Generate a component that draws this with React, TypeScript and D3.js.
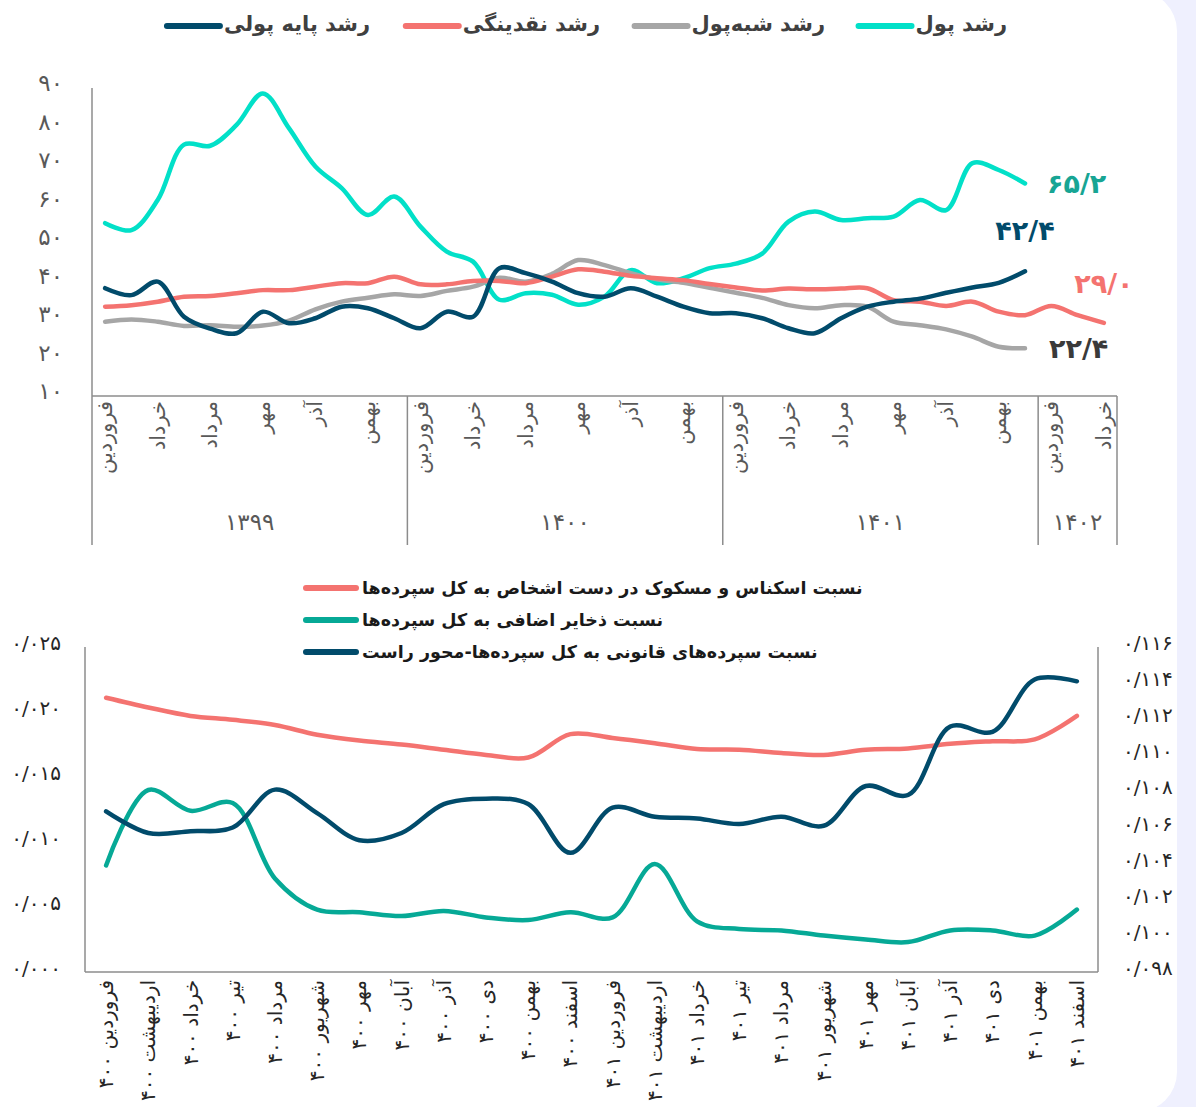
import React, { useEffect, useRef } from "react";
import * as d3 from "d3";

const W = 1196;
const H = 1107;

const MONTHS = ["فروردین", "اردیبهشت", "خرداد", "تیر", "مرداد", "شهریور", "مهر", "آبان", "آذر", "دی", "بهمن", "اسفند"];

// ---- top chart data (growth, %) ----
const TOP_YEARS = ["۱۳۹۹", "۱۴۰۰", "۱۴۰۱", "۱۴۰۲"];
const TOP_YEAR_MONTHS = [12, 12, 12, 3];
const TOP_SERIES_NAMES = ["رشد پول", "رشد شبه\u200cپول", "رشد نقدینگی", "رشد پایه پولی"];

const moneyGrowth = [54.9, 53.1, 60.9, 75.3, 75.0, 80.4, 88.6, 79.5, 69.6, 64.0, 57.0, 61.8, 54.0, 47.5, 44.9, 35.0, 36.7, 36.3, 33.7, 35.8, 42.7, 39.3, 40.6, 43.2, 44.4, 47.0, 55.3, 57.9, 55.7, 56.2, 56.6, 60.9, 58.3, 70.5, 68.7, 65.2];
const quasiMoneyGrowth = [29.3, 29.9, 29.3, 28.2, 28.4, 28.0, 28.3, 29.6, 32.5, 34.5, 35.5, 36.4, 36.0, 37.3, 38.4, 40.7, 39.7, 41.7, 45.3, 44.0, 41.9, 40.3, 39.4, 38.1, 36.8, 35.5, 33.6, 32.8, 33.6, 33.2, 29.3, 28.4, 27.3, 25.4, 22.8, 22.4];
const liquidityGrowth = [33.2, 33.6, 34.5, 35.8, 36.0, 36.7, 37.5, 37.5, 38.4, 39.3, 39.3, 41.0, 39.0, 39.0, 39.9, 39.9, 39.3, 41.0, 42.9, 42.3, 41.2, 40.6, 40.1, 39.1, 38.2, 37.4, 37.9, 37.7, 37.9, 38.0, 34.9, 34.5, 33.4, 34.5, 31.9, 31.0, 33.4, 31.0, 29.0];
const baseMoneyGrowth = [38.0, 36.2, 39.7, 30.6, 27.5, 26.3, 31.9, 28.9, 30.2, 33.2, 32.8, 30.2, 27.6, 31.9, 30.6, 43.2, 41.9, 39.7, 36.7, 35.8, 38.0, 35.8, 33.2, 31.5, 31.5, 30.2, 27.6, 26.3, 30.2, 33.2, 34.5, 35.3, 36.8, 38.2, 39.4, 42.4];

// ---- bottom chart data (ratios) ----
const BOTTOM_YEARS = ["۴۰۰", "۴۰۱"];
const BOTTOM_SERIES_NAMES = [
  "نسبت اسکناس و مسکوک در دست اشخاص به کل سپرده\u200cها",
  "نسبت ذخایر اضافی به کل سپرده\u200cها",
  "نسبت سپرده\u200cهای قانونی به کل سپرده\u200cها-محور راست",
];
const currencyRatio = [0.0211, 0.02035, 0.0197, 0.0194, 0.019, 0.01825, 0.0178, 0.0175, 0.0171, 0.0167, 0.0165, 0.0183, 0.018, 0.0176, 0.01715, 0.0171, 0.01685, 0.0167, 0.0171, 0.0172, 0.01755, 0.01775, 0.0179, 0.0197];
const excessReserveRatio = [0.0082, 0.014, 0.0124, 0.013, 0.0072, 0.0048, 0.0046, 0.0043, 0.0047, 0.0042, 0.004, 0.0046, 0.0042, 0.0083, 0.0039, 0.0033, 0.0032, 0.0028, 0.0025, 0.0023, 0.0032, 0.0032, 0.0028, 0.0048];
const requiredReserveRatio = [0.1069, 0.1057, 0.1058, 0.106, 0.1081, 0.1068, 0.1053, 0.1057, 0.1073, 0.1076, 0.1073, 0.1046, 0.1071, 0.1066, 0.1065, 0.1062, 0.1066, 0.1061, 0.1083, 0.1078, 0.1116, 0.1113, 0.1142, 0.1141];

const C_CYAN = "#02e0c8";
const C_GRAY = "#a6a6a6";
const C_SALMON = "#f47370";
const C_NAVY = "#014b6b";
const C_TEAL = "#06a996";
const AXIS = "#8c8c8c";
const FONT = "'DejaVu Sans', sans-serif";

// convert latin digits to persian ones, decimal point -> slash
const fa = (s: string) => s.replace(/[0-9]/g, (d) => "۰۱۲۳۴۵۶۷۸۹"[+d]).replace(".", "/");

export default function App() {
  const svgRef = useRef<SVGSVGElement>(null);

  useEffect(() => {
    if (!svgRef.current) return;
    const svg = d3.select(svgRef.current);
    svg.selectAll("*").remove();

    // background card
    svg.append("rect").attr("width", W).attr("height", H).attr("fill", "#eff0fe");
    svg.append("rect").attr("x", -60).attr("y", -9).attr("width", 1237).attr("height", 1121).attr("rx", 40).attr("fill", "#fff");

    // ================= TOP CHART =================
    const topKeys: string[] = [];
    TOP_YEARS.forEach((y, yi) => {
      for (let m = 0; m < TOP_YEAR_MONTHS[yi]; m++) topKeys.push(`${y}-${m}`);
    });
    const xTop = d3.scaleBand<string>().domain(topKeys).range([92, 1117]);
    const yTop = d3.scaleLinear().domain([10, 90]).range([396, 88]);
    const cx = (i: number) => (xTop(topKeys[i]) ?? 0) + xTop.bandwidth() / 2;

    const top = svg.append("g");

    // y tick labels
    top.selectAll(".ytick")
      .data(yTop.ticks(8))
      .join("text")
      .attr("x", 63)
      .attr("y", (d) => yTop(d) + 3)
      .attr("text-anchor", "end")
      .attr("font-family", FONT)
      .attr("font-size", 23)
      .attr("fill", "#595959")
      .text((d) => fa(String(d)));

    // axes + year separators
    top.append("line").attr("x1", 92).attr("x2", 92).attr("y1", yTop(90)).attr("y2", 545).attr("stroke", AXIS).attr("stroke-width", 1.5);
    top.append("line").attr("x1", 92).attr("x2", 1117).attr("y1", yTop(10)).attr("y2", yTop(10)).attr("stroke", AXIS).attr("stroke-width", 1.5);
    let acc = 0;
    TOP_YEARS.forEach((y, yi) => {
      const x0 = xTop(topKeys[acc]) ?? 0;
      const x1 = x0 + xTop.bandwidth() * TOP_YEAR_MONTHS[yi];
      top.append("line").attr("x1", x1).attr("x2", x1).attr("y1", yTop(10)).attr("y2", 545).attr("stroke", AXIS).attr("stroke-width", 1.5);
      top.append("text")
        .attr("x", (x0 + x1) / 2)
        .attr("y", 530)
        .attr("text-anchor", "middle")
        .attr("font-family", FONT)
        .attr("font-size", 23)
        .attr("fill", "#595959")
        .text(y);
      for (let m = 0; m < TOP_YEAR_MONTHS[yi]; m += 2) {
        const x = cx(acc + m);
        top.append("text")
          .attr("transform", `translate(${x + 7},401) rotate(-90)`)
          .attr("text-anchor", "end")
          .attr("font-family", FONT)
          .attr("font-size", 21)
          .attr("fill", "#595959")
          .text(MONTHS[m]);
      }
      acc += TOP_YEAR_MONTHS[yi];
    });

    const topLine = d3.line<number>().x((_, i) => cx(i)).y((d) => yTop(d)).curve(d3.curveCatmullRom.alpha(0.5));
    const topSeries = [
      { values: moneyGrowth, color: C_CYAN, labelColor: "#17a594", dx: 22, dy: 0, anchor: "start" },
      { values: quasiMoneyGrowth, color: C_GRAY, labelColor: "#3a3a3a", dx: 24, dy: 0, anchor: "start" },
      { values: liquidityGrowth, color: C_SALMON, labelColor: C_SALMON, dx: 0, dy: -40, anchor: "middle" },
      { values: baseMoneyGrowth, color: C_NAVY, labelColor: C_NAVY, dx: 0, dy: -41, anchor: "middle" },
    ];
    topSeries.forEach((s) => {
      top.append("path")
        .attr("d", topLine(s.values))
        .attr("fill", "none")
        .attr("stroke", s.color)
        .attr("stroke-width", 4.5)
        .attr("stroke-linecap", "round");
    });
    topSeries.forEach((s) => {
      const last = s.values.length - 1;
      top.append("text")
        .attr("x", cx(last) + s.dx)
        .attr("y", yTop(s.values[last]) + s.dy + 10)
        .attr("text-anchor", s.anchor)
        .attr("font-family", FONT)
        .attr("font-weight", "bold")
        .attr("font-size", 27)
        .attr("fill", s.labelColor)
        .text(fa(s.values[last].toFixed(1)));
    });

    // top legend (right to left)
    const legendRight = [1007, 825, 600, 370];
    const legendColors = [C_CYAN, C_GRAY, C_SALMON, C_NAVY];
    TOP_SERIES_NAMES.forEach((name, i) => {
      const t = svg.append("text")
        .attr("x", legendRight[i])
        .attr("y", 31)
        .attr("text-anchor", "end")
        .attr("font-family", FONT)
        .attr("font-weight", "bold")
        .attr("font-size", 21)
        .attr("fill", "#404040")
        .text(name);
      const w = (t.node() as SVGTextElement).getComputedTextLength();
      const left = legendRight[i] - w;
      svg.append("line")
        .attr("x1", left - 57).attr("x2", left - 4)
        .attr("y1", 26).attr("y2", 26)
        .attr("stroke", legendColors[i])
        .attr("stroke-width", 6)
        .attr("stroke-linecap", "round");
    });

    // ================= BOTTOM CHART =================
    const botLabels: string[] = [];
    BOTTOM_YEARS.forEach((y) => MONTHS.forEach((m) => botLabels.push(`${m} ${y}`)));
    const xBot = d3.scaleBand<string>().domain(botLabels).range([85, 1098]);
    const yLeft = d3.scaleLinear().domain([0, 0.025]).range([972, 647]);
    const yRight = d3.scaleLinear().domain([0.098, 0.116]).range([972, 647]);
    const bx = (i: number) => (xBot(botLabels[i]) ?? 0) + xBot.bandwidth() / 2;

    const bot = svg.append("g");
    bot.append("line").attr("x1", 85).attr("x2", 85).attr("y1", 647).attr("y2", 972).attr("stroke", AXIS).attr("stroke-width", 1.5);
    bot.append("line").attr("x1", 1098).attr("x2", 1098).attr("y1", 647).attr("y2", 972).attr("stroke", AXIS).attr("stroke-width", 1.5);
    bot.append("line").attr("x1", 85).attr("x2", 1098).attr("y1", 972).attr("y2", 972).attr("stroke", AXIS).attr("stroke-width", 1.5);

    bot.selectAll(".lt")
      .data(yLeft.ticks(5))
      .join("text")
      .attr("x", 61)
      .attr("y", (d) => yLeft(d) + 3)
      .attr("text-anchor", "end")
      .attr("font-family", FONT)
      .attr("font-size", 20)
      .attr("fill", "#262626")
      .text((d) => fa(d.toFixed(3)));
    bot.selectAll(".rt")
      .data(yRight.ticks(9))
      .join("text")
      .attr("x", 1123)
      .attr("y", (d) => yRight(d) + 3)
      .attr("text-anchor", "start")
      .attr("font-family", FONT)
      .attr("font-size", 20)
      .attr("fill", "#262626")
      .text((d) => fa(d.toFixed(3)));

    bot.selectAll(".xl")
      .data(botLabels)
      .join("text")
      .attr("transform", (_, i) => `translate(${bx(i) + 7},980) rotate(-90)`)
      .attr("text-anchor", "end")
      .attr("font-family", FONT)
      .attr("font-size", 20)
      .attr("fill", "#262626")
      .text((d) => d);

    const leftLine = d3.line<number>().x((_, i) => bx(i)).y((d) => yLeft(d)).curve(d3.curveCatmullRom.alpha(0.5));
    const rightLine = d3.line<number>().x((_, i) => bx(i)).y((d) => yRight(d)).curve(d3.curveCatmullRom.alpha(0.5));
    const botColors = [C_SALMON, C_TEAL, C_NAVY];
    [leftLine(currencyRatio), leftLine(excessReserveRatio), rightLine(requiredReserveRatio)].forEach((d, i) => {
      bot.append("path")
        .attr("d", d)
        .attr("fill", "none")
        .attr("stroke", botColors[i])
        .attr("stroke-width", 4.5)
        .attr("stroke-linecap", "round");
    });

    BOTTOM_SERIES_NAMES.forEach((name, i) => {
      const y = 588 + i * 32;
      bot.append("line")
        .attr("x1", 306).attr("x2", 356)
        .attr("y1", y).attr("y2", y)
        .attr("stroke", botColors[i])
        .attr("stroke-width", 6)
        .attr("stroke-linecap", "round");
      bot.append("text")
        .attr("x", 362)
        .attr("y", y + 6)
        .attr("text-anchor", "start")
        .attr("font-family", FONT)
        .attr("font-weight", "bold")
        .attr("font-size", 17.5)
        .attr("fill", "#1a1a1a")
        .text(name);
    });
  }, []);

  return <svg ref={svgRef} width={W} height={H} style={{ position: "absolute", left: 0, top: 0 }} />;
}
